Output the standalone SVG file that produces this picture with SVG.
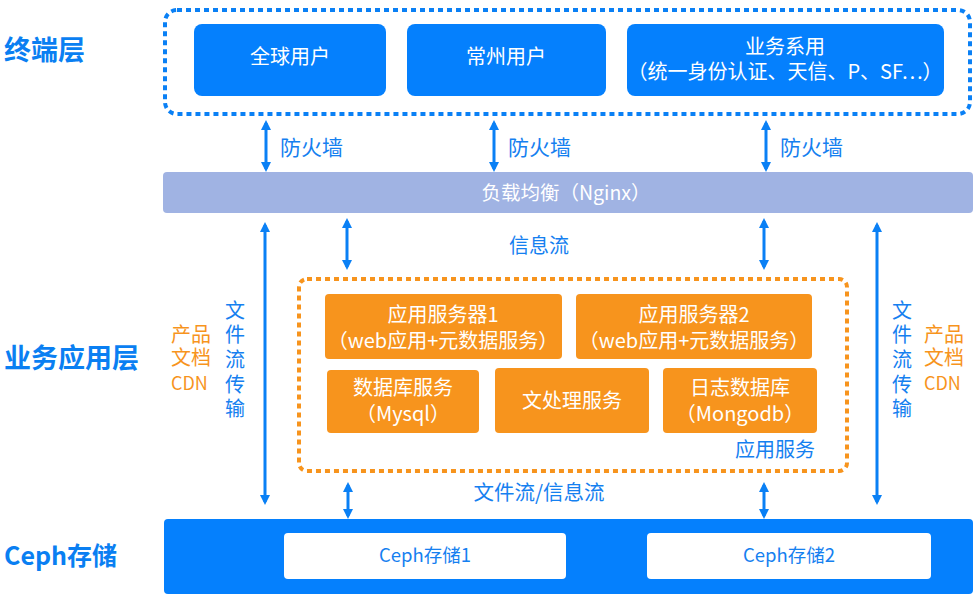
<svg xmlns="http://www.w3.org/2000/svg" width="980" height="602" viewBox="0 0 980 602">
<defs>
<style>
text{font-family:"Noto Sans CJK SC","Noto Sans",sans-serif;}
.layer{font-size:27px;font-weight:bold;fill:#0a7ff2;}
.bbox{fill:#0580fd;}
.obox{fill:#f7941d;}
.wt{fill:#ffffff;font-size:20px;text-anchor:middle;}
.bt{fill:#1580f0;font-size:20px;}
.ot{fill:#f7941d;font-size:20px;}
.vt{fill:#1580f0;font-size:20px;writing-mode:vertical-rl;letter-spacing:4.7px;}
.arr{stroke:#0a80f5;stroke-width:3;fill:none;marker-start:url(#ah);marker-end:url(#ah);}
</style>
<marker id="ah" viewBox="0 0 10 10" refX="7" refY="5" markerWidth="10" markerHeight="10" markerUnits="userSpaceOnUse" orient="auto-start-reverse">
<path d="M0,0 L10,5 L0,10 z" fill="#0a80f5"/>
</marker>
</defs>
<rect width="980" height="602" fill="#ffffff"/>

<g id="layer-labels">
<text class="layer" x="4" y="60">终端层</text>
<text class="layer" x="4" y="368">业务应用层</text>
<text class="layer" x="4" y="565" style="font-size:25px">Ceph存储</text>
</g>

<g id="terminal-group">
<rect x="165" y="10" width="805" height="104" rx="12" fill="none" stroke="#0a80f5" stroke-width="4" stroke-dasharray="5 4"/>
</g>
<g id="node-global-users">
<rect class="bbox" x="194" y="24" width="192" height="72" rx="8"/>
<text class="wt" x="290" y="64">全球用户</text>
</g>
<g id="node-changzhou-users">
<rect class="bbox" x="407" y="24" width="199" height="72" rx="8"/>
<text class="wt" x="506" y="64">常州用户</text>
</g>
<g id="node-business-systems">
<rect class="bbox" x="627" y="24" width="317" height="72" rx="8"/>
<text class="wt" x="785" y="54">业务系用</text>
<text class="wt" x="785" y="79">（统一身份认证、天信、P、SF…）</text>
</g>

<g id="node-nginx">
<rect x="163" y="172" width="810" height="41" rx="4" fill="#a0b3e3"/>
<text x="566" y="200" fill="#ffffff" font-size="19.5" text-anchor="middle">负载均衡（Nginx）</text>
</g>

<g id="app-group">
<rect x="299" y="279" width="548" height="192" rx="8" fill="none" stroke="#f7941d" stroke-width="4" stroke-dasharray="5 4"/>
<text class="bt" x="815" y="457" text-anchor="end">应用服务</text>
</g>
<g id="node-app1">
<rect class="obox" x="325" y="294" width="237" height="65" rx="4"/>
<text class="wt" x="443" y="322">应用服务器1</text>
<text class="wt" x="443" y="348">（web应用+元数据服务）</text>
</g>
<g id="node-app2">
<rect class="obox" x="576" y="294" width="236" height="65" rx="4"/>
<text class="wt" x="694" y="322">应用服务器2</text>
<text class="wt" x="694" y="348">（web应用+元数据服务）</text>
</g>
<g id="node-db">
<rect class="obox" x="327" y="370" width="152" height="63" rx="4"/>
<text class="wt" x="403" y="395">数据库服务</text>
<text class="wt" x="403" y="421">（Mysql）</text>
</g>
<g id="node-docproc">
<rect class="obox" x="495" y="368" width="154" height="65" rx="4"/>
<text class="wt" x="572" y="408">文处理服务</text>
</g>
<g id="node-logdb">
<rect class="obox" x="663" y="368" width="154" height="65" rx="4"/>
<text class="wt" x="740" y="395">日志数据库</text>
<text class="wt" x="740" y="421">（Mongodb）</text>
</g>

<g id="node-ceph">
<rect class="bbox" x="164" y="519" width="809" height="75" rx="4"/>
<rect x="284" y="533" width="282" height="46" rx="4" fill="#ffffff"/>
<text x="425" y="562" fill="#1580f0" font-size="18.5" text-anchor="middle">Ceph存储1</text>
<rect x="647" y="533" width="284" height="46" rx="4" fill="#ffffff"/>
<text x="789" y="562" fill="#1580f0" font-size="18.5" text-anchor="middle">Ceph存储2</text>
</g>

<g id="connectors">
<line class="arr" x1="266" y1="123" x2="266" y2="169"/>
<line class="arr" x1="494" y1="123" x2="494" y2="169"/>
<line class="arr" x1="766" y1="123" x2="766" y2="169"/>
<line class="arr" x1="347" y1="221" x2="347" y2="267"/>
<line class="arr" x1="764" y1="221" x2="764" y2="267"/>
<line class="arr" x1="265" y1="225" x2="265" y2="502"/>
<line class="arr" x1="877" y1="225" x2="877" y2="502"/>
<line class="arr" x1="348" y1="485" x2="348" y2="516"/>
<line class="arr" x1="764" y1="485" x2="764" y2="516"/>
</g>

<g id="connector-labels">
<text class="bt" x="280" y="155" style="font-size:21px">防火墙</text>
<text class="bt" x="508" y="155" style="font-size:21px">防火墙</text>
<text class="bt" x="780" y="155" style="font-size:21px">防火墙</text>
<text class="bt" x="509" y="253">信息流</text>
<text class="bt" x="539" y="500" text-anchor="middle" style="font-size:20.5px">文件流/信息流</text>
<text class="vt" x="235" y="300">文件流传输</text>
<text class="vt" x="902" y="300">文件流传输</text>
<text class="ot"><tspan x="171" y="342">产品</tspan><tspan x="171" y="365">文档</tspan><tspan x="171" y="390" font-size="18">CDN</tspan></text>
<text class="ot"><tspan x="924" y="342">产品</tspan><tspan x="924" y="365">文档</tspan><tspan x="924" y="390" font-size="18">CDN</tspan></text>
</g>
</svg>
